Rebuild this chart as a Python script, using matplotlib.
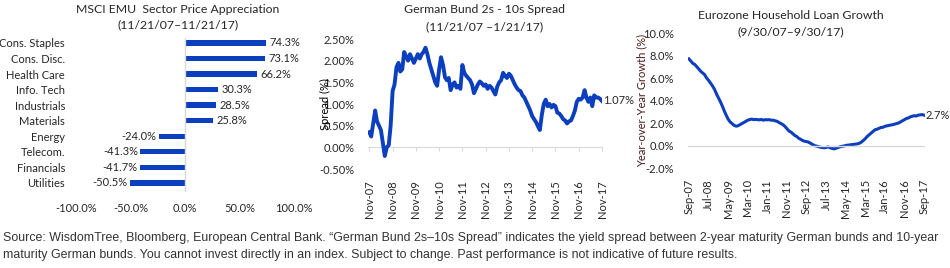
import matplotlib
matplotlib.use("Agg")
import matplotlib.pyplot as plt
import matplotlib.ticker as mticker
import pandas as pd

# Prepare data
sectors = ["Cons. Staples", "Cons. Disc.", "Health Care", "Info. Tech", "Industrials",
           "Materials", "Energy", "Telecom.", "Financials", "Utilities"]
sector_returns = [74.3, 73.1, 66.2, 30.3, 28.5, 25.8, -24.0, -41.3, -41.7, -50.5]

bund_spread = [0.35, 0.25, 0.55, 0.85, 0.6, 0.5, 0.4, 0.1, -0.2, 0.0,
               0.05, 0.5, 1.3, 1.45, 1.85, 1.95, 1.75, 1.8, 2.2, 2.1,
               2.0, 2.15, 2.05, 1.95, 2.05, 2.15, 2.05, 2.15, 2.2, 2.3,
               2.15, 1.95, 1.8, 1.65, 1.5, 1.42, 1.8, 2.08, 1.9, 1.62,
               1.55, 1.6, 1.32, 1.45, 1.5, 1.38, 1.42, 1.35, 1.9, 1.72,
               1.65, 1.6, 1.55, 1.45, 1.25, 1.35, 1.45, 1.52, 1.48, 1.42,
               1.45, 1.35, 1.42, 1.38, 1.3, 1.22, 1.4, 1.5, 1.55, 1.72,
               1.65, 1.6, 1.7, 1.65, 1.55, 1.45, 1.38, 1.32, 1.3, 1.2,
               1.15, 1.05, 0.95, 0.85, 0.72, 0.65, 0.58, 0.48, 0.4, 0.75,
               1.0, 1.1, 0.95, 1.0, 0.92, 0.98, 0.95, 0.8, 0.78, 0.72,
               0.65, 0.62, 0.55, 0.6, 0.62, 0.72, 0.85, 1.05, 1.12, 1.1,
               1.15, 1.32, 1.15, 1.05, 1.15, 0.95, 1.2, 1.15, 1.15, 1.12,
               1.07]
bund_dates = pd.date_range("2007-11-01", periods=len(bund_spread), freq="MS")
bund_ticks = pd.date_range("2007-11-01", "2017-11-01", freq="12MS")
bund_tick_labels = [d.strftime("%b-%y") for d in bund_ticks]

loan_growth = [7.7, 7.5, 7.3, 7.2, 7.0, 6.8, 6.6, 6.45, 6.3, 6.0,
               5.8, 5.55, 5.3, 5.0, 4.6, 4.25, 3.9, 3.5, 3.1, 2.7,
               2.35, 2.1, 1.95, 1.8, 1.72, 1.75, 1.85, 1.95, 2.05, 2.15,
               2.25, 2.3, 2.35, 2.3, 2.32, 2.3, 2.28, 2.32, 2.25, 2.3,
               2.28, 2.3, 2.25, 2.25, 2.2, 2.15, 2.05, 1.95, 1.85, 1.7,
               1.5, 1.3, 1.2, 1.05, 0.9, 0.8, 0.65, 0.55, 0.45, 0.38,
               0.35, 0.3, 0.2, 0.1, 0.0, -0.05, -0.1, -0.15, -0.18, -0.2,
               -0.18, -0.12, -0.2, -0.25, -0.3, -0.25, -0.18, -0.12, -0.08, -0.05,
               0.0, 0.03, 0.05, 0.08, 0.1, 0.12, 0.15, 0.2, 0.3, 0.45,
               0.6, 0.8, 0.95, 1.1, 1.25, 1.4, 1.45, 1.52, 1.6, 1.62,
               1.7, 1.75, 1.78, 1.82, 1.85, 1.9, 1.95, 2.0, 2.1, 2.2,
               2.3, 2.4, 2.45, 2.55, 2.6, 2.65, 2.62, 2.7, 2.72, 2.75,
               2.7]
loan_dates = pd.date_range("2007-09-01", periods=len(loan_growth), freq="MS")
loan_ticks = pd.date_range("2007-09-01", "2017-09-01", freq="10MS")
loan_tick_labels = [d.strftime("%b-%y") for d in loan_ticks]

footer = ("Source: WisdomTree, Bloomberg, European Central Bank. \u201cGerman Bund 2s\u201310s Spread\u201d "
          "indicates the yield spread between 2-year maturity German bunds and 10-year\n"
          "maturity German bunds. You cannot invest directly in an index. Subject to change. "
          "Past performance is not indicative of future results.")

blue = "#0b3fbe"
text_col = "#262626"
plt.rcParams["font.family"] = ["Lato", "DejaVu Sans"]
plt.rcParams["font.size"] = 8
plt.rcParams["text.color"] = text_col
plt.rcParams["xtick.color"] = text_col
plt.rcParams["ytick.color"] = text_col

fig = plt.figure(figsize=(9.5, 2.68), dpi=100)

# ---- panel 1: sector bars
ax1 = fig.add_axes([0.080, 0.2836, 0.2295, 0.575])
ypos = list(range(len(sectors)))
ax1.barh(ypos, sector_returns, height=0.34, color=blue)
ax1.set_ylim(9.58, -0.32)
ax1.set_xlim(-100, 100)
ax1.set_yticks(ypos)
ax1.set_yticklabels(sectors)
ax1.tick_params(axis="y", length=0, pad=8)
ax1.tick_params(axis="x", length=0, pad=8)
ax1.xaxis.set_major_locator(mticker.MultipleLocator(50))
ax1.xaxis.set_major_formatter(mticker.FuncFormatter(lambda v, p: f"{v:.1f}%"))
for s in ax1.spines.values():
    s.set_visible(False)
ax1.axvline(0, color="#d9d9d9", lw=1)
for y, v in zip(ypos, sector_returns):
    if v >= 0:
        ax1.text(v + 3, y, f"{v:.1f}%", va="center", ha="left")
    else:
        ax1.text(v - 2, y, f"{v:.1f}%", va="center", ha="right")
fig.text(0.187, 0.963, "MSCI EMU  Sector Price Appreciation", fontsize=8.8, ha="center", va="center")
fig.text(0.187, 0.907, "(11/21/07\u201311/21/17)", fontsize=8.8, ha="center", va="center")

# ---- panel 2: bund spread
ax2 = fig.add_axes([0.3874, 0.3694, 0.2463, 0.485])
ax2.plot(bund_dates, bund_spread, color=blue, lw=2.8, solid_joinstyle="round")
ax2.set_ylim(-0.5, 2.5)
ax2.set_xlim(bund_ticks[0] - pd.Timedelta(days=20), bund_ticks[-1])
ax2.yaxis.set_major_locator(mticker.MultipleLocator(0.5))
ax2.yaxis.set_major_formatter(mticker.FuncFormatter(lambda v, p: f"{v:.2f}%"))
ax2.set_xticks(bund_ticks)
ax2.set_xticklabels(bund_tick_labels, rotation=90)
ax2.tick_params(axis="both", length=0)
ax2.tick_params(axis="y", pad=10)
ax2.tick_params(axis="x", pad=8)
for s in ax2.spines.values():
    s.set_visible(False)
zero2 = ax2.secondary_xaxis(1 / 6)
zero2.set_xticks(bund_ticks)
zero2.tick_params(axis="x", length=3, color="#d9d9d9", labelbottom=False)
zero2.spines["bottom"].set_color("#d9d9d9")
ax2.set_ylabel("Spread (%)")
ax2.yaxis.set_label_coords(-0.16, 0.5)
ax2.annotate(f"{bund_spread[-1]:.2f}%", (bund_dates[-1], bund_spread[-1]), xytext=(1, 0),
             textcoords="offset points", va="center", ha="left", annotation_clip=False)
fig.text(0.5105, 0.965, "German Bund 2s - 10s Spread", fontsize=8.8, ha="center", va="center")
fig.text(0.5105, 0.900, "(11/21/07 \u20131/21/17)", fontsize=8.8, ha="center", va="center")

# ---- panel 3: household loans
ax3 = fig.add_axes([0.7242, 0.3731, 0.2495, 0.5037])
ax3.plot(loan_dates, loan_growth, color=blue, lw=2.2, solid_joinstyle="round")
ax3.set_ylim(-2, 10)
ax3.set_xlim(loan_ticks[0] - pd.Timedelta(days=15), loan_ticks[-1] + pd.Timedelta(days=15))
ax3.yaxis.set_major_locator(mticker.MultipleLocator(2))
ax3.yaxis.set_major_formatter(mticker.FuncFormatter(lambda v, p: f"{v:.1f}%"))
ax3.set_xticks(loan_ticks)
ax3.set_xticklabels(loan_tick_labels, rotation=90)
ax3.tick_params(axis="both", length=0)
ax3.tick_params(axis="y", pad=10)
ax3.tick_params(axis="x", pad=8)
for s in ax3.spines.values():
    s.set_visible(False)
ax3.axhline(0, color="#d9d9d9", lw=1)
ax3.set_ylabel("Year-over-Year Growth (%)", color="#4a1c1c")
ax3.yaxis.set_label_coords(-0.17, 0.5)
ax3.annotate(f"{loan_growth[-1]:.1f}%", (loan_dates[-1], loan_growth[-1]), xytext=(1, 0),
             textcoords="offset points", va="center", ha="left", annotation_clip=False)
fig.text(0.8326, 0.943, "Eurozone Household Loan Growth", fontsize=8.8, ha="center", va="center")
fig.text(0.8326, 0.882, "(9/30/07\u20139/30/17)", fontsize=8.8, ha="center", va="center")

fig.text(0.003, 0.080, footer, fontsize=8.9, family=["Liberation Sans", "DejaVu Sans"],
         color="#333333", va="center", ha="left", linespacing=1.5)

plt.savefig("out.png", dpi=100)
